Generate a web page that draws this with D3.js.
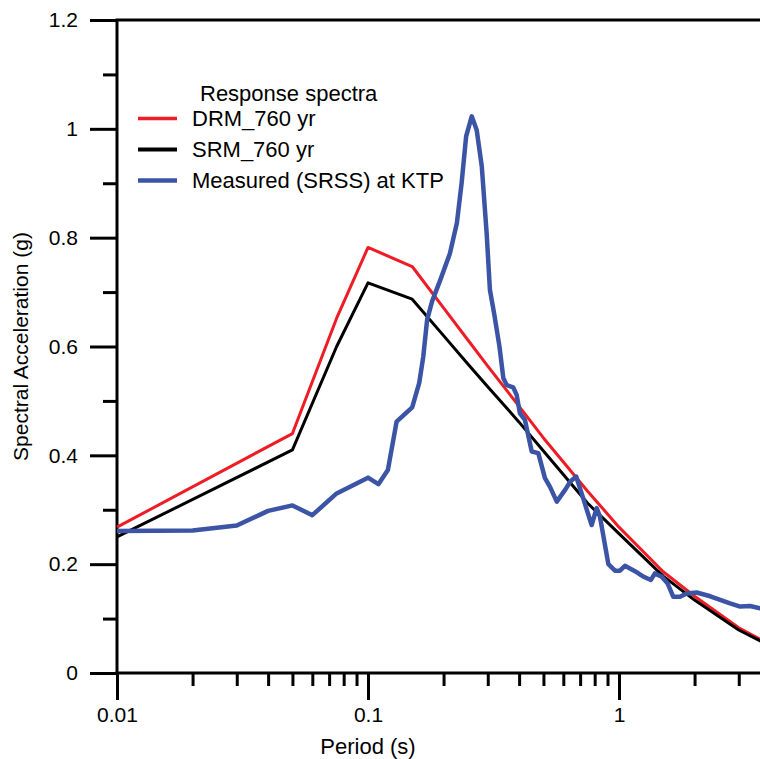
<!DOCTYPE html>
<html>
<head>
<meta charset="utf-8">
<script src="https://cdn.jsdelivr.net/npm/d3@7"></script>
<style>
  body { margin: 0; background: #fff; }
  svg { display: block; font-family: Arial, "Liberation Sans", sans-serif; }
</style>
</head>
<body>
<svg id="chart" width="760" height="759"></svg>
<script>
// design spectra periods (s)
var specPeriods = [0.01, 0.05, 0.075, 0.1, 0.15, 0.2, 0.25, 0.3, 0.4, 0.5, 0.75, 1, 1.5, 2, 3, 4, 5];
var drmSa = [0.268, 0.44, 0.652, 0.782, 0.747, 0.671, 0.612, 0.564, 0.49, 0.432, 0.334, 0.268, 0.186, 0.141, 0.083, 0.052, 0.04];
var srmSa = [0.25, 0.41, 0.60, 0.717, 0.687, 0.62, 0.568, 0.526, 0.461, 0.408, 0.312, 0.256, 0.178, 0.134, 0.079, 0.05, 0.038];

// measured (SRSS) spectrum at KTP
var measPeriods = [0.01, 0.02, 0.03, 0.04, 0.05, 0.06, 0.075, 0.1, 0.11, 0.12, 0.13, 0.15, 0.16, 0.166, 0.172, 0.18,
  0.194, 0.212, 0.226, 0.236, 0.246, 0.259, 0.271, 0.284, 0.297, 0.306, 0.318, 0.334, 0.346, 0.357, 0.379, 0.391,
  0.403, 0.422, 0.449, 0.477, 0.507, 0.531, 0.565, 0.609, 0.64, 0.675, 0.71, 0.744, 0.778, 0.815, 0.84, 0.907,
  0.964, 1.009, 1.056, 1.158, 1.25, 1.34, 1.39, 1.48, 1.56, 1.646, 1.75, 1.86, 2.04, 2.31, 2.77, 3.04, 3.33, 3.65, 4];
var measSa = [0.261, 0.262, 0.271, 0.298, 0.308, 0.29, 0.33, 0.359, 0.347, 0.373, 0.462, 0.488, 0.533, 0.581, 0.649, 0.683,
  0.722, 0.771, 0.827, 0.9, 0.986, 1.023, 0.998, 0.931, 0.808, 0.704, 0.661, 0.6, 0.542, 0.529, 0.525, 0.511,
  0.477, 0.465, 0.407, 0.404, 0.358, 0.342, 0.315, 0.336, 0.352, 0.361, 0.33, 0.3, 0.272, 0.303, 0.287, 0.2,
  0.188, 0.188, 0.197, 0.187, 0.177, 0.171, 0.183, 0.177, 0.165, 0.14, 0.14, 0.146, 0.148, 0.141, 0.128, 0.122, 0.123, 0.119, 0.115];

var xMajor = [0.01, 0.1, 1];
var xMinor = [];
[0.01, 0.1, 1].forEach(function(b) { for (var k = 2; k <= 9; k++) xMinor.push(+(b * k).toPrecision(3)); });
var yMajor = [0, 0.2, 0.4, 0.6, 0.8, 1, 1.2];
var yMinor = [0.1, 0.3, 0.5, 0.7, 0.9, 1.1];

var legendItems = [
  {label: "DRM_760 yr", color: "#ee1c25", width: 3.3},
  {label: "SRM_760 yr", color: "#000000", width: 4},
  {label: "Measured (SRSS) at KTP", color: "#3b54a5", width: 4.5}
];

var svg = d3.select("#chart"),
    margin = {top: 20, left: 117},
    height = 673 - margin.top,
    width = 3 * 251,
    g = svg.append("g").attr("transform", "translate(" + margin.left + "," + margin.top + ")");

var x = d3.scaleLog().domain([0.01, 10]).range([0, width]);
var y = d3.scaleLinear().domain([0, 1.2]).range([height, 0]);

function styleAxis(sel, labels) {
  sel.select(".domain").remove();
  sel.selectAll(".tick line").attr("stroke", "#000").attr("stroke-width", 3);
  sel.selectAll(".tick text").attr("fill", "#000").attr("font-size", 21);
  if (!labels) sel.selectAll(".tick text").remove();
}

// x axis
g.append("g")
    .attr("transform", "translate(0," + height + ")")
    .call(d3.axisBottom(x).tickValues(xMinor).tickSize(13).tickFormat(""))
    .call(styleAxis, false);
g.append("g")
    .attr("transform", "translate(0," + height + ")")
    .call(d3.axisBottom(x).tickValues(xMajor).tickSize(27).tickPadding(7).tickFormat(function(d) { return String(d); }))
    .call(styleAxis, true);

// y axis
g.append("g")
    .call(d3.axisLeft(y).tickValues(yMinor).tickSize(14).tickFormat(""))
    .call(styleAxis, false);
g.append("g")
    .call(d3.axisLeft(y).tickValues(yMajor).tickSize(27).tickPadding(12).tickFormat(function(d) { return String(d); }))
    .call(styleAxis, true);

// frame lines
g.append("line").attr("x1", 0).attr("x2", 0).attr("y1", 0).attr("y2", height)
    .attr("stroke", "#000").attr("stroke-width", 3);
g.append("line").attr("x1", -1.5).attr("x2", width).attr("y1", height).attr("y2", height)
    .attr("stroke", "#000").attr("stroke-width", 3);
g.append("line").attr("x1", -1.5).attr("x2", width).attr("y1", 0).attr("y2", 0)
    .attr("stroke", "#000").attr("stroke-width", 3);

var line = d3.line()
    .x(function(d) { return x(d[0]); })
    .y(function(d) { return y(d[1]); });

var series = [
  {t: specPeriods, v: drmSa, item: legendItems[0], w: 3},
  {t: specPeriods, v: srmSa, item: legendItems[1], w: 3},
  {t: measPeriods, v: measSa, item: legendItems[2], w: 4.5}
];

g.selectAll(".series")
    .data(series)
    .enter().append("path")
      .attr("class", "series")
      .attr("fill", "none")
      .attr("stroke", function(d) { return d.item.color; })
      .attr("stroke-width", function(d) { return d.w; })
      .attr("stroke-linejoin", "round")
      .attr("d", function(d) { return line(d.t.map(function(t, i) { return [t, d.v[i]]; })); });

// axis titles
svg.append("text")
    .attr("x", 368)
    .attr("y", 754)
    .attr("text-anchor", "middle")
    .attr("font-size", 22)
    .text("Period (s)");

svg.append("text")
    .attr("transform", "translate(28," + (margin.top + height / 2) + ") rotate(-90)")
    .attr("text-anchor", "middle")
    .attr("font-size", 21)
    .text("Spectral Acceleration (g)");

// legend
svg.append("text")
    .attr("x", 200)
    .attr("y", 101)
    .attr("font-size", 22)
    .text("Response spectra");

var legend = svg.append("g")
  .selectAll("g")
  .data(legendItems)
  .enter().append("g")
    .attr("transform", function(d, i) { return "translate(0," + [126, 157, 188][i] + ")"; });

legend.append("line")
    .attr("x1", 138)
    .attr("x2", 177)
    .attr("y1", -7.5)
    .attr("y2", -7.5)
    .attr("stroke", function(d) { return d.color; })
    .attr("stroke-width", function(d) { return d.width; });

legend.append("text")
    .attr("x", 192)
    .attr("font-size", 22)
    .text(function(d) { return d.label; });
</script>
</body>
</html>
